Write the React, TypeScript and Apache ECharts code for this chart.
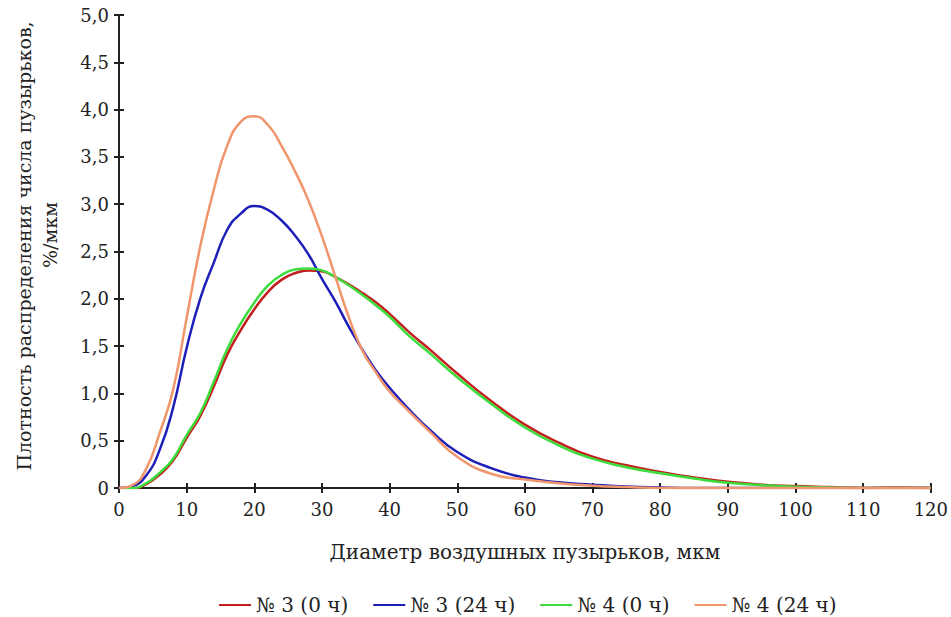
import React, { useEffect, useRef } from 'react';
import * as echarts from 'echarts';

// Diameter grid (µm)
const diameters = [0, 2, 4, 6, 8, 10, 12, 14, 16, 18, 20, 22, 24, 26, 28, 30, 32, 34, 36, 38, 40, 43, 46, 50, 55, 60, 65, 70, 75, 80, 85, 90, 95, 100, 105, 110, 115, 120];

// Series values (%/µm)
const s3_0h = [0, 0, 0.04, 0.14, 0.29, 0.53, 0.76, 1.07, 1.41, 1.67, 1.89, 2.07, 2.20, 2.27, 2.30, 2.29, 2.23, 2.15, 2.06, 1.96, 1.84, 1.64, 1.46, 1.21, 0.92, 0.67, 0.48, 0.33, 0.24, 0.17, 0.11, 0.065, 0.035, 0.02, 0.01, 0, 0.005, 0];
const s3_24h = [0, 0.02, 0.13, 0.40, 0.85, 1.48, 2.00, 2.38, 2.73, 2.90, 2.98, 2.94, 2.83, 2.67, 2.47, 2.21, 1.97, 1.70, 1.46, 1.24, 1.06, 0.82, 0.61, 0.38, 0.21, 0.11, 0.06, 0.035, 0.015, 0.005, 0, 0, 0, 0, 0, 0, 0, 0];
const s4_0h = [0, 0, 0.05, 0.16, 0.31, 0.56, 0.79, 1.12, 1.47, 1.74, 1.96, 2.14, 2.25, 2.31, 2.32, 2.30, 2.23, 2.14, 2.04, 1.93, 1.81, 1.60, 1.42, 1.17, 0.89, 0.64, 0.45, 0.31, 0.22, 0.155, 0.10, 0.055, 0.03, 0.012, 0.005, 0, 0, 0];
const s4_24h = [0, 0.03, 0.20, 0.58, 1.04, 1.80, 2.55, 3.15, 3.62, 3.87, 3.93, 3.84, 3.62, 3.35, 3.04, 2.66, 2.23, 1.80, 1.45, 1.22, 1.02, 0.80, 0.59, 0.33, 0.15, 0.09, 0.05, 0.025, 0.01, 0, 0, 0, 0, 0, 0, 0, 0, 0];

const seriesNames = ['№ 3 (0 ч)', '№ 3 (24 ч)', '№ 4 (0 ч)', '№ 4 (24 ч)'];
const seriesColors = ['#c41e1e', '#1e1eb8', '#3ddc3d', '#f0956c'];
const seriesValues = [s3_0h, s3_24h, s4_0h, s4_24h];

const xTitle = 'Диаметр воздушных пузырьков, мкм';
const yTitle1 = 'Плотность распределения числа пузырьков,';
const yTitle2 = '%/мкм';

const FONT = 'DejaVu Serif';
const AXIS = '#222';

export default function App() {
  const ref = useRef<HTMLDivElement>(null);
  useEffect(() => {
    if (!ref.current) return;
    const chart = echarts.init(ref.current, undefined, { renderer: 'svg' });
    const fmtY = (v: number) => (v === 0 ? '0' : v.toFixed(1).replace('.', ','));
    chart.setOption({
      animation: false,
      backgroundColor: '#ffffff',
      grid: { left: 119, right: 9, top: 15, bottom: 129, containLabel: false },
      xAxis: [
        {
          type: 'value', min: 0, max: 120, interval: 10, position: 'bottom',
          axisLine: { show: true, lineStyle: { color: AXIS, width: 2 } },
          axisTick: { show: true, length: 5, lineStyle: { color: AXIS, width: 2 } },
          axisLabel: { margin: 12, fontSize: 18, fontFamily: FONT, color: '#222' },
          splitLine: { show: false },
          name: xTitle, nameLocation: 'middle', nameGap: 54,
          nameTextStyle: { fontSize: 20, fontFamily: FONT, color: '#222' },
        },
        {
          type: 'value', min: 0, max: 120, interval: 10, position: 'bottom', offset: 0,
          axisLine: { show: false },
          axisTick: { show: true, inside: true, length: 5, lineStyle: { color: AXIS, width: 2 } },
          axisLabel: { show: false },
          splitLine: { show: false },
        },
      ],
      yAxis: [
        {
          type: 'value', min: 0, max: 5, interval: 0.5, position: 'left',
          axisLine: { show: true, lineStyle: { color: AXIS, width: 2 } },
          axisTick: { show: true, length: 5, lineStyle: { color: AXIS, width: 2 } },
          axisLabel: { margin: 10, fontSize: 18, fontFamily: FONT, color: '#222', formatter: fmtY },
          splitLine: { show: false },
        },
        {
          type: 'value', min: 0, max: 5, interval: 0.5, position: 'left', offset: 0,
          axisLine: { show: false },
          axisTick: { show: true, inside: true, length: 5, lineStyle: { color: AXIS, width: 2 } },
          axisLabel: { show: false },
          splitLine: { show: false },
        },
      ],
      legend: {
        data: seriesNames,
        top: 590,
        left: 214,
        icon: 'rect',
        itemWidth: 32,
        itemHeight: 2,
        itemGap: 25,
        textStyle: { fontSize: 20, fontFamily: FONT, color: '#222' },
      },
      graphic: [
        {
          type: 'text', x: 24, y: 246, rotation: Math.PI / 2,
          style: { text: yTitle1, fontSize: 19, fontFamily: FONT, fill: '#222', align: 'center', verticalAlign: 'middle' },
        },
        {
          type: 'text', x: 50, y: 235, rotation: Math.PI / 2,
          style: { text: yTitle2, fontSize: 19, fontFamily: FONT, fill: '#222', align: 'center', verticalAlign: 'middle' },
        },
      ],
      series: seriesNames.map((name, i) => ({
        name,
        type: 'line',
        xAxisIndex: 0,
        yAxisIndex: 0,
        data: diameters.map((d, j) => [d, seriesValues[i][j]]),
        smooth: 0.5,
        symbol: 'none',
        showSymbol: false,
        lineStyle: { color: seriesColors[i], width: 2.5 },
        itemStyle: { color: seriesColors[i] },
      })),
    });
    return () => chart.dispose();
  }, []);
  return <div ref={ref} style={{ position: 'fixed', left: 0, top: 0, width: 951, height: 617 }} />;
}
